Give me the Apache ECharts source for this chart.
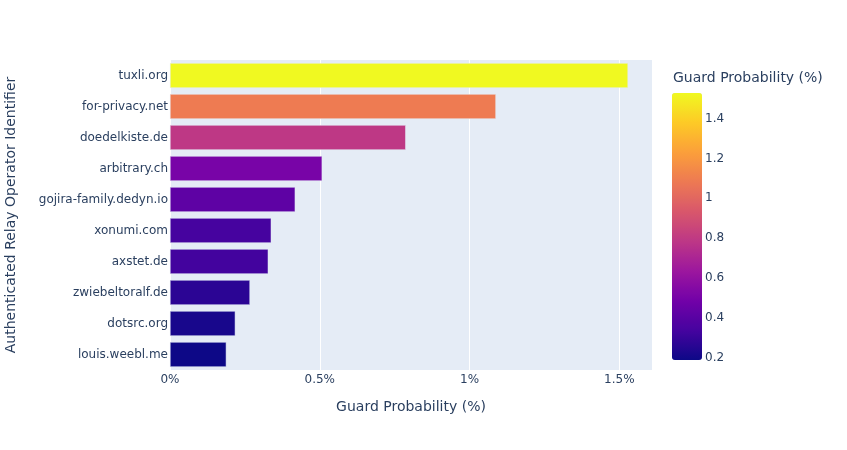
<!DOCTYPE html>
<html>
<head>
<meta charset="utf-8">
<script src="https://cdn.jsdelivr.net/npm/echarts@6/dist/echarts.min.js"></script>
<style>html,body{margin:0;padding:0;background:#fff}#c{width:847px;height:450px}</style>
</head>
<body>
<div id="c"></div>
<script>
const operators = ['tuxli.org','for-privacy.net','doedelkiste.de','arbitrary.ch','gojira-family.dedyn.io','xonumi.com','axstet.de','zwiebeltoralf.de','dotsrc.org','louis.weebl.me'];
const guardProb = [1.529, 1.088, 0.787, 0.508, 0.418, 0.338, 0.328, 0.267, 0.218, 0.188];
const xTicks = [0, 0.5, 1, 1.5];
const colorbarTicks = [0.2, 0.4, 0.6, 0.8, 1, 1.2, 1.4];
const plasma = ['#0d0887','#46039f','#7201a8','#9c179e','#bd3786','#d8576b','#ed7953','#fb9f3a','#fdca26','#f0f921'];

const FONT = '"DejaVu Sans", Verdana, sans-serif';
const TXT = '#2a3f5f';
const vmin = Math.min(...guardProb), vmax = Math.max(...guardProb);
const chart = echarts.init(document.getElementById('c'), null, {renderer:'canvas'});
chart.setOption({
  animation:false,
  backgroundColor:'#fff',
  textStyle:{fontFamily:FONT},
  grid:[
    {left:170, top:60, width:482, height:310, show:true, backgroundColor:'#E5ECF6', borderWidth:0, containLabel:false, outerBoundsMode:'none'},
    {left:672, top:93, width:30, height:267, show:false, outerBoundsMode:'none'}
  ],
  xAxis:[
    {type:'value', gridIndex:0, min:0, max:1.609, interval:0.5,
     axisLine:{show:false}, axisTick:{show:false},
     splitLine:{lineStyle:{color:'#fff', width:1}},
     axisLabel:{color:TXT, fontSize:12, fontFamily:FONT, margin:4, showMaxLabel:false,
       formatter:v => xTicks.some(t=>Math.abs(t-v)<1e-9) ? (v + '%') : ''},
     name:'Guard Probability (%)', nameLocation:'middle', nameGap:30,
     nameTextStyle:{color:TXT, fontSize:14, fontFamily:FONT}},
    {type:'value', gridIndex:1, show:false, min:0, max:1}
  ],
  yAxis:[
    {type:'category', gridIndex:0, data:operators, inverse:true,
     axisLine:{show:false}, axisTick:{show:false}, splitLine:{show:false},
     axisLabel:{color:TXT, fontSize:12, fontFamily:FONT, margin:2},
     name:'Authenticated Relay Operator Identifier', nameLocation:'middle', nameGap:152,
     nameTextStyle:{color:TXT, fontSize:14, fontFamily:FONT}},
    {type:'value', gridIndex:1, position:'right', min:vmin, max:vmax,
     axisLine:{show:false}, axisTick:{show:false}, splitLine:{show:false},
     axisLabel:{color:TXT, fontSize:12, fontFamily:FONT, margin:3, customValues:colorbarTicks,
       formatter:v => String(v)}}
  ],
  visualMap:{
    type:'continuous', min:vmin, max:vmax, dimension:0, seriesIndex:0,
    inRange:{color:plasma}, calculable:false, orient:'vertical',
    left:667, top:88, itemWidth:30, itemHeight:267, text:['',''], showLabel:false,
    padding:5, borderWidth:0
  },
  graphic:[
    {type:'text', left:673, top:71, style:{text:'Guard Probability (%)', fill:TXT, font:'14px ' + FONT}}
  ],
  series:[
    {type:'bar', xAxisIndex:0, yAxisIndex:0, data:guardProb, barCategoryGap:'20%',
     itemStyle:{borderColor:'#E5ECF6', borderWidth:0.5}}
  ]
});
</script>
</body>
</html>
